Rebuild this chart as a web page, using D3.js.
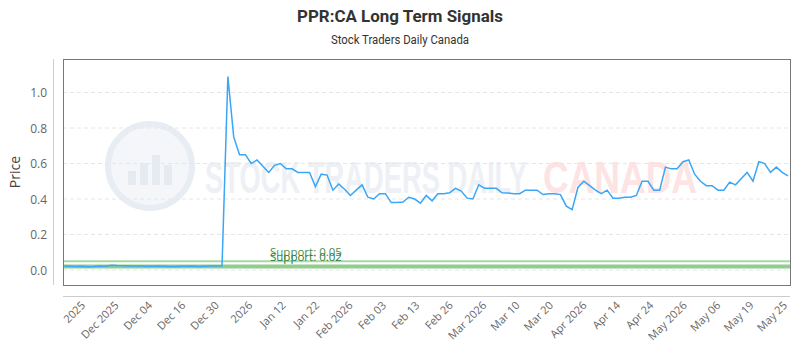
<!DOCTYPE html>
<html lang="en">

<head>
  <meta charset="UTF-8">
  <title>PPR:CA Long Term Signals</title>
  <style>
    body { margin: 0; background: #fff; }
  </style>
</head>

<body>
  <svg id="svg" width="800" height="350"></svg>

  <script src="https://d3js.org/d3.v7.min.js"></script>
  <script>
    // price per point (ordered)
    const prices = [
      0.022, 0.021, 0.020, 0.021, 0.019, 0.020, 0.022, 0.021, 0.027, 0.025,
      0.024, 0.023, 0.022, 0.022, 0.021, 0.021, 0.022, 0.021, 0.020, 0.020,
      0.021, 0.021, 0.022, 0.020, 0.021, 0.022, 0.023, 0.024, 1.09, 0.75,
      0.65, 0.65, 0.60, 0.62, 0.585, 0.55, 0.59, 0.60, 0.57, 0.57,
      0.55, 0.55, 0.55, 0.47, 0.54, 0.535, 0.45, 0.485, 0.455, 0.42,
      0.45, 0.48, 0.41, 0.40, 0.43, 0.43, 0.38, 0.38, 0.383, 0.41,
      0.40, 0.377, 0.42, 0.39, 0.43, 0.43, 0.435, 0.46, 0.445, 0.405,
      0.40, 0.48, 0.46, 0.46, 0.46, 0.435, 0.434, 0.43, 0.43, 0.45,
      0.45, 0.45, 0.425, 0.43, 0.43, 0.425, 0.36, 0.34, 0.465, 0.50,
      0.475, 0.45, 0.43, 0.45, 0.405, 0.405, 0.41, 0.41, 0.42, 0.50,
      0.50, 0.45, 0.45, 0.58, 0.57, 0.57, 0.61, 0.62, 0.54, 0.50,
      0.475, 0.475, 0.45, 0.45, 0.495, 0.48, 0.515, 0.55, 0.50, 0.61,
      0.60, 0.55, 0.58, 0.55, 0.53
    ]

    const xLabels = ['2025', 'Dec 2025', 'Dec 04', 'Dec 16', 'Dec 30', '2026', 'Jan 12', 'Jan 22',
      'Feb 2026', 'Feb 03', 'Feb 13', 'Feb 26', 'Mar 2026', 'Mar 10', 'Mar 20', 'Apr 2026',
      'Apr 14', 'Apr 24', 'May 2026', 'May 06', 'May 19', 'May 25']

    const yTicks = [0, 0.2, 0.4, 0.6, 0.8, 1.0]

    const supportLevels = [0.05, 0.02]

    const svg = d3.select('#svg')
    const plotL = 63, plotR = 790, plotT = 59, plotB = 285

    const xScale = d3.scaleLinear()
      .domain([0, prices.length - 1])
      .range([64.5, 788])

    const yScale = d3.scaleLinear()
      .domain([-0.0845, 1.189])
      .range([plotB, plotT])

    const labelScale = d3.scalePoint()
      .domain(xLabels)
      .range([82, 784])

    // titles
    svg.append('text')
      .attr('x', 400).attr('y', 22)
      .attr('text-anchor', 'middle')
      .attr('font-family', 'Roboto, sans-serif')
      .attr('font-weight', 'bold')
      .attr('font-size', 17)
      .attr('fill', '#333')
      .attr('textLength', 206)
      .attr('lengthAdjust', 'spacingAndGlyphs')
      .text('PPR:CA Long Term Signals')

    svg.append('text')
      .attr('x', 400).attr('y', 44)
      .attr('text-anchor', 'middle')
      .attr('font-family', 'Roboto, sans-serif')
      .attr('font-size', 12)
      .attr('fill', '#333')
      .attr('textLength', 138)
      .attr('lengthAdjust', 'spacingAndGlyphs')
      .text('Stock Traders Daily Canada')

    // watermark
    const wm = svg.append('g')
    wm.append('circle')
      .attr('cx', 150).attr('cy', 166).attr('r', 42)
      .attr('fill', '#f4f6fa').attr('stroke', '#e8ecf3').attr('stroke-width', 6)
    wm.selectAll('rect.wmbar')
      .data([14, 22, 30, 20])
      .enter()
      .append('rect')
      .attr('x', (d, i) => 128 + i * 12)
      .attr('y', d => 185 - d)
      .attr('width', 8)
      .attr('height', d => d)
      .attr('fill', '#e6eaf1')
    wm.append('text')
      .attr('x', 205).attr('y', 193)
      .attr('font-family', '"Liberation Sans Narrow", sans-serif')
      .attr('font-weight', 'bold')
      .attr('font-size', 44)
      .attr('fill', '#edf0f5')
      .attr('textLength', 322)
      .attr('lengthAdjust', 'spacingAndGlyphs')
      .text('STOCK TRADERS DAILY')
    wm.append('text')
      .attr('x', 543).attr('y', 193)
      .attr('font-family', '"Liberation Sans Narrow", sans-serif')
      .attr('font-weight', 'bold')
      .attr('font-size', 44)
      .attr('fill', '#fce4e4')
      .attr('textLength', 154)
      .attr('lengthAdjust', 'spacingAndGlyphs')
      .text('CANADA')

    // grid
    svg.append('g')
      .selectAll('line')
      .data(yTicks)
      .enter()
      .append('line')
      .attr('x1', plotL).attr('x2', plotR)
      .attr('y1', d => yScale(d)).attr('y2', d => yScale(d))
      .attr('stroke', '#e6e6e6')
      .attr('stroke-dasharray', '4,3')

    // y axis labels
    svg.append('g')
      .selectAll('text')
      .data(yTicks)
      .enter()
      .append('text')
      .attr('x', 47)
      .attr('y', d => yScale(d) + 4.5)
      .attr('text-anchor', 'end')
      .attr('font-family', '"Open Sans", sans-serif')
      .attr('font-size', 12)
      .attr('fill', '#666')
      .text(d => d.toFixed(1))

    svg.append('text')
      .attr('transform', 'translate(20,172) rotate(-90)')
      .attr('text-anchor', 'middle')
      .attr('font-family', '"Open Sans", sans-serif')
      .attr('font-size', 14)
      .attr('fill', '#444')
      .text('Price')

    // axis lines outside the frame
    svg.append('line')
      .attr('x1', 53.5).attr('x2', 53.5).attr('y1', plotT).attr('y2', plotB)
      .attr('stroke', '#ccc')
    svg.append('line')
      .attr('x1', plotL).attr('x2', plotR).attr('y1', 296.5).attr('y2', 296.5)
      .attr('stroke', '#ccc')

    // x labels
    svg.append('g')
      .selectAll('text')
      .data(xLabels)
      .enter()
      .append('text')
      .attr('transform', d => `translate(${labelScale(d) + 4},${306}) rotate(-45)`)
      .attr('text-anchor', 'end')
      .attr('font-family', '"Open Sans", sans-serif')
      .attr('font-size', 11)
      .attr('fill', '#666')
      .text(d => d)

    // support lines
    svg.append('g')
      .selectAll('line')
      .data(supportLevels)
      .enter()
      .append('line')
      .attr('x1', plotL).attr('x2', plotR)
      .attr('y1', d => yScale(d)).attr('y2', d => yScale(d))
      .attr('stroke', (d, i) => i === 0 ? '#a9d8a4' : '#94cc90')
      .attr('stroke-width', (d, i) => i === 0 ? 2 : 4)

    svg.append('g')
      .selectAll('text')
      .data(supportLevels)
      .enter()
      .append('text')
      .attr('x', 270)
      .attr('y', (d, i) => yScale(d) - (i === 0 ? 5 : 5.5))
      .attr('font-family', '"Open Sans", sans-serif')
      .attr('font-size', 11.5)
      .attr('fill', (d, i) => i === 0 ? '#4a8f4a' : '#2e7d32')
      .text(d => 'Support: ' + d.toFixed(2))

    // price line
    const line = d3.line()
      .x((d, i) => xScale(i))
      .y(d => yScale(d))

    svg.append('path')
      .datum(prices)
      .attr('d', line)
      .attr('fill', 'none')
      .attr('stroke', '#3aa6f5')
      .attr('stroke-width', 1.5)

    // frame
    svg.append('rect')
      .attr('x', plotL + 0.5).attr('y', plotT + 0.5)
      .attr('width', plotR - plotL).attr('height', plotB - plotT)
      .attr('fill', 'none')
      .attr('stroke', '#777')
  </script>
</body>

</html>
